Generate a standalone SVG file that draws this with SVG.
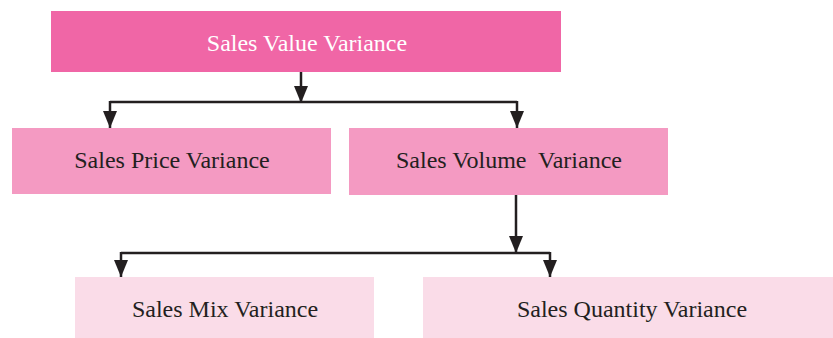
<svg xmlns="http://www.w3.org/2000/svg" width="833" height="338" viewBox="0 0 833 338">
<defs>
<style>
.lvl1{fill:#F066A6}
.lvl2{fill:#F49AC2}
.lvl3{fill:#FADCE8}
text{font-family:"Liberation Serif","Times New Roman",serif;font-size:24px;text-anchor:middle;white-space:pre}
.t1{fill:#FFFFFF}
.t2{fill:#231F20}
.wire{fill:none;stroke:#231F20;stroke-width:2.5}
</style>
<marker id="ad" markerUnits="userSpaceOnUse" markerWidth="18" markerHeight="14" viewBox="0 0 18 14" refX="17" refY="7" orient="auto">
<path d="M0,0 L17,7 L0,14 Z" fill="#231F20"/>
</marker>
</defs>
<g id="connectors">
<path class="wire" d="M301,72 V103" marker-end="url(#ad)"/>
<path class="wire" d="M110,102 H517"/>
<path class="wire" d="M110,101 V128" marker-end="url(#ad)"/>
<path class="wire" d="M517,101 V128" marker-end="url(#ad)"/>
<path class="wire" d="M516,195 V253" marker-end="url(#ad)"/>
<path class="wire" d="M121,253 H550"/>
<path class="wire" d="M121,252 V277" marker-end="url(#ad)"/>
<path class="wire" d="M550,252 V277" marker-end="url(#ad)"/>
</g>
<g id="sales-value-variance">
<rect class="lvl1" x="51" y="11" width="510" height="61"/>
<text class="t1" x="307" y="51">Sales Value Variance</text>
</g>
<g id="sales-price-variance">
<rect class="lvl2" x="12" y="128" width="319" height="66"/>
<text class="t2" x="172" y="168">Sales Price Variance</text>
</g>
<g id="sales-volume-variance">
<rect class="lvl2" x="349" y="128" width="319" height="67"/>
<text class="t2" x="509" y="168">Sales Volume  Variance</text>
</g>
<g id="sales-mix-variance">
<rect class="lvl3" x="75" y="277" width="299" height="61"/>
<text class="t2" x="225" y="317">Sales Mix Variance</text>
</g>
<g id="sales-quantity-variance">
<rect class="lvl3" x="423" y="277" width="410" height="61"/>
<text class="t2" x="632" y="317">Sales Quantity Variance</text>
</g>
</svg>
